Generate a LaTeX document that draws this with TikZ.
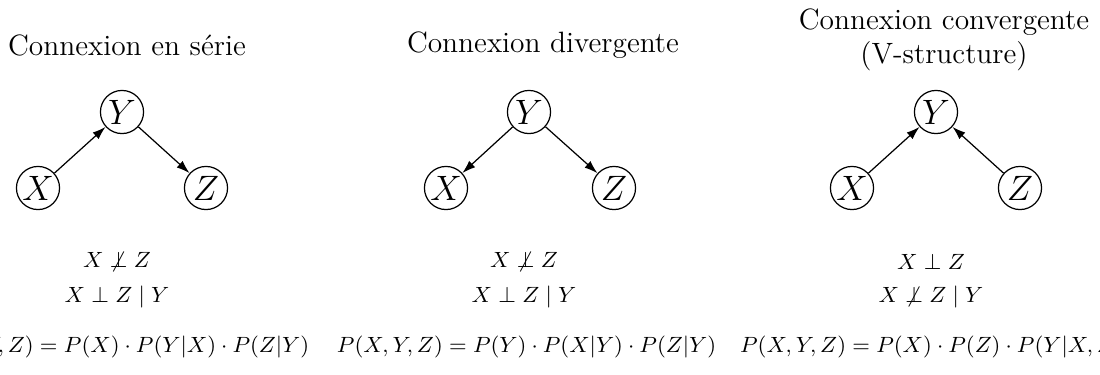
\documentclass[tikz,border=0pt]{standalone}
\usetikzlibrary{arrows.meta}
\begin{document}
\begin{tikzpicture}[x=0.4082pt,y=-0.4082pt,
  var/.style={circle,draw,line width=0.5pt,inner sep=0pt,minimum size=17.6pt,font=\Large},
  edge/.style={line width=0.5pt,-{Latex[length=5.4pt,width=3.6pt]}},
  ttl/.style={font=\large,align=center},
  indep/.style={inner sep=0pt,font=\small},
  formula/.style={inner sep=0pt,font=\small}]
\useasboundingbox (0,0) rectangle (1100,374);
% column 1
\node[ttl] (t1) at (127,45) {Connexion en série};
\node[var] (y1) at (122,112) {$Y$};
\node[var] (x1) at (38,188) {$X$};
\node[var] (z1) at (206,188) {$Z$};
\draw[edge] (x1) -- (y1);
\draw[edge] (y1) -- (z1);
\node[indep] (a1) at (117,262) {$X \not\perp Z$};
\node[indep] (b1) at (117,297) {$X \perp Z \mid Y$};
\node[formula] (f1) at (118.5,347) {$P(X,Y,Z) = P(X)\cdot P(Y|X)\cdot P(Z|Y)$};
% column 2
\node[ttl] (t2) at (543,45) {Connexion divergente};
\node[var] (y2) at (529,112) {$Y$};
\node[var] (x2) at (446,188) {$X$};
\node[var] (z2) at (614,188) {$Z$};
\draw[edge] (y2) -- (x2);
\draw[edge] (y2) -- (z2);
\node[indep] (a2) at (524,262) {$X \not\perp Z$};
\node[indep] (b2) at (524,297) {$X \perp Z \mid Y$};
\node[formula] (f2) at (526.5,347) {$P(X,Y,Z) = P(Y)\cdot P(X|Y)\cdot P(Z|Y)$};
% column 3
\node[ttl] (t3) at (944,40) {Connexion convergente\\(V-structure)};
\node[var] (y3) at (936,112) {$Y$};
\node[var] (x3) at (852,188) {$X$};
\node[var] (z3) at (1020,188) {$Z$};
\draw[edge] (x3) -- (y3);
\draw[edge] (z3) -- (y3);
\node[indep] (a3) at (931,262) {$X \perp Z$};
\node[indep] (b3) at (931,297) {$X \not\perp Z \mid Y$};
\node[formula] (f3) at (931.5,347) {$P(X,Y,Z) = P(X)\cdot P(Z)\cdot P(Y|X,Z)$};
\end{tikzpicture}
\end{document}
